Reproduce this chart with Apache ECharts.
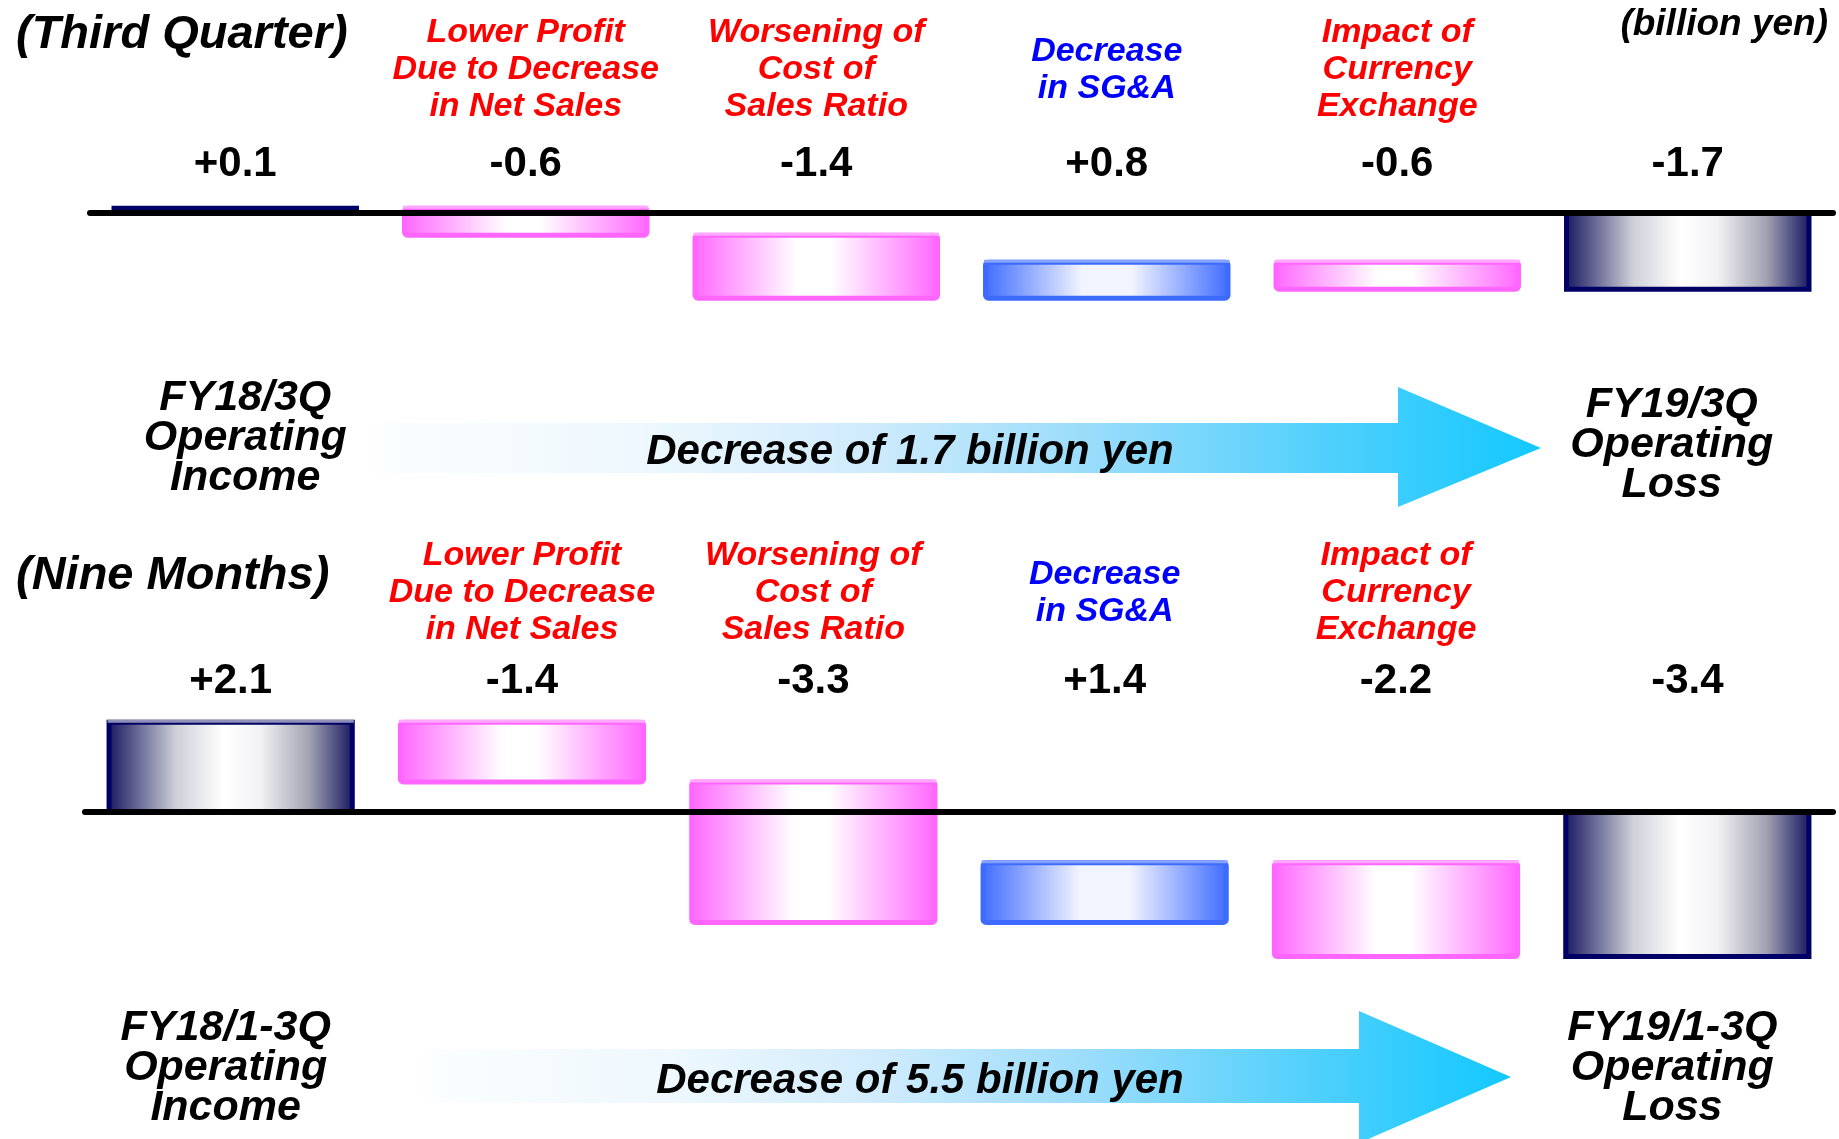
<!DOCTYPE html>
<html>
<head>
<meta charset="utf-8">
<script src="https://cdn.jsdelivr.net/npm/echarts@6/dist/echarts.min.js"></script>
<style>
  html, body { margin: 0; padding: 0; background: #fff; }
  #main { width: 1839px; height: 1139px; }
</style>
</head>
<body>
<div id="main"></div>
<script>
// operating income bridge, third quarter and nine months (billion yen)
var factorNames = ['Lower Profit\nDue to Decrease\nin Net Sales', 'Worsening of\nCost of\nSales Ratio', 'Decrease\nin SG&A', 'Impact of\nCurrency\nExchange'];
var quarterEnds = ['FY18/3Q\nOperating\nIncome', 'FY19/3Q\nOperating\nLoss'];
var nineMonthEnds = ['FY18/1-3Q\nOperating\nIncome', 'FY19/1-3Q\nOperating\nLoss'];
var quarterValues = [0.1, -0.6, -1.4, 0.8, -0.6, -1.7];
var nineMonthValues = [2.1, -1.4, -3.3, 1.4, -2.2, -3.4];
var panelTitles = ['(Third Quarter)', '(Nine Months)'];
var arrowTexts = ['Decrease of 1.7 billion yen', 'Decrease of 5.5 billion yen'];
var unitText = '(billion yen)';

var FONT = '"Liberation Sans", Arial, Helvetica, sans-serif';

var barStyles = {
    total: {
        stroke: '#000066', top: '#9090b8',
        stops: [[0, '#14145e'], [0.28, '#cfd0d8'], [0.47, '#ffffff'], [0.62, '#f2f2f4'], [0.82, '#a0a0b2'], [1, '#14145e']]
    },
    down: {
        stroke: '#ff66ff', top: '#ffa8ff',
        stops: [[0, '#ff66ff'], [0.42, '#ffffff'], [0.56, '#ffffff'], [1, '#ff66ff']]
    },
    up: {
        stroke: '#3d6bff', top: '#86a2ff',
        stops: [[0, '#3d6bff'], [0.4, '#f2f4ff'], [0.6, '#f2f4ff'], [1, '#3d6bff']]
    }
};

// waterfall ranges [index, low, high, delta]
function bridgeData(values) {
    var out = [];
    var cum = 0;
    var last = values.length - 1;
    values.forEach(function (v, i) {
        if (i === 0 || i === last) {
            out.push([i, Math.min(0, v), Math.max(0, v), v]);
            cum = v;
        } else {
            var next = cum + v;
            out.push([i, Math.min(cum, next), Math.max(cum, next), v]);
            cum = next;
        }
    });
    return out;
}

function fmt(v) {
    return (v > 0 ? '+' : '') + v.toFixed(1);
}

function makeRender(values, ends, layout) {
    var last = values.length - 1;
    return function (params, api) {
        var i = api.value(0);
        var low = api.value(1);
        var high = api.value(2);
        var delta = api.value(3);
        var pTop = api.coord([i, high]);
        var pBot = api.coord([i, low]);
        var band = api.size([1, 0])[0];
        var lw = 5;
        var w = band * 0.852 - lw;
        var x = pTop[0] - w / 2;
        var h = Math.max(pBot[1] - pTop[1], 1);
        var kind = (i === 0 || i === last) ? 'total' : (delta > 0 ? 'up' : 'down');
        var st = barStyles[kind];

        var children = [
            {
                type: 'rect',
                shape: { x: x, y: pTop[1], width: w, height: h, r: kind === 'total' ? 0 : 3 },
                style: {
                    fill: new echarts.graphic.LinearGradient(0, 0, 1, 0, st.stops.map(function (s) {
                        return { offset: s[0], color: s[1] };
                    })),
                    stroke: st.stroke,
                    lineWidth: lw
                }
            },
            {
                type: 'text',
                x: pTop[0],
                y: layout.valueY,
                style: {
                    text: fmt(delta),
                    fill: '#000',
                    fontSize: 42, fontWeight: 'bold', fontFamily: FONT,
                    align: 'center', verticalAlign: 'middle'
                }
            }
        ];
        // lighter top edge, skipped on very thin bars
        if (h > 12) {
            children.push({
                type: 'line',
                shape: { x1: x - lw / 2 + 1, y1: pTop[1] - 1, x2: x + w + lw / 2 - 1, y2: pTop[1] - 1 },
                style: { stroke: st.top, lineWidth: 3 }
            });
        }

        if (kind === 'total') {
            var end = i === 0 ? 0 : 1;
            children.push({
                type: 'text',
                x: pTop[0] + layout.footShift[end],
                y: layout.footY[end],
                style: {
                    text: ends[end],
                    fill: '#000',
                    fontSize: 43, fontWeight: 'bold', fontStyle: 'italic', fontFamily: FONT,
                    lineHeight: 40,
                    align: 'center', verticalAlign: 'middle'
                }
            });
        } else {
            children.push({
                type: 'text',
                x: pTop[0],
                y: layout.nameY,
                style: {
                    text: factorNames[i - 1],
                    fill: kind === 'up' ? '#0000ff' : '#ff0000',
                    fontSize: 34, fontWeight: 'bold', fontStyle: 'italic', fontFamily: FONT,
                    lineHeight: 37,
                    align: 'center', verticalAlign: 'middle'
                }
            });
        }
        return { type: 'group', children: children };
    };
}

function arrow(points, text, tx, ty) {
    return [
        {
            type: 'polygon',
            shape: { points: points },
            style: {
                fill: new echarts.graphic.LinearGradient(0, 0, 1, 0, [
                    { offset: 0, color: '#fcfeff' },
                    { offset: 0.23, color: '#eef8fe' },
                    { offset: 0.42, color: '#d0ebfc' },
                    { offset: 0.62, color: '#98dcfb' },
                    { offset: 0.83, color: '#4ccffc' },
                    { offset: 1, color: '#12c8ff' }
                ])
            },
            z: 1
        },
        {
            type: 'text',
            x: tx, y: ty,
            style: {
                text: text, fill: '#000',
                fontSize: 42, fontWeight: 'bold', fontStyle: 'italic', fontFamily: FONT,
                align: 'center', verticalAlign: 'middle'
            },
            z: 2
        }
    ];
}

function titleText(text, x, y, size, align) {
    return {
        type: 'text',
        x: x, y: y,
        style: {
            text: text, fill: '#000',
            fontSize: size, fontWeight: 'bold', fontStyle: 'italic', fontFamily: FONT,
            align: align, verticalAlign: 'middle'
        }
    };
}

function drawBridge() {
    var dom = document.getElementById('main');
    var myChart = echarts.init(dom, null, { renderer: 'canvas' });
    var categories = [quarterEnds[0]].concat(factorNames, [quarterEnds[1]]);

    var axisLineStyle = { show: true, onZero: true, lineStyle: { color: '#000', width: 6 } };
    var hiddenY = {
        axisLine: { show: false }, axisTick: { show: false },
        axisLabel: { show: false }, splitLine: { show: false }
    };

    var option = {
        backgroundColor: '#fff',
        animation: false,
        grid: [
            { left: 90, right: 6, top: 190.2, height: 135 },
            { left: 85, right: 6, top: 705.2, height: 276.9 }
        ],
        xAxis: [
            { type: 'category', gridIndex: 0, data: categories, z: 5, axisLine: axisLineStyle, axisTick: { show: false }, axisLabel: { show: false } },
            { type: 'category', gridIndex: 1, data: categories, z: 5, axisLine: axisLineStyle, axisTick: { show: false }, axisLabel: { show: false } }
        ],
        yAxis: [
            Object.assign({ type: 'value', gridIndex: 0, min: -2.5, max: 0.5 }, hiddenY),
            Object.assign({ type: 'value', gridIndex: 1, min: -4, max: 2.5 }, hiddenY)
        ],
        graphic: [
            titleText(panelTitles[0], 16, 35, 47, 'left'),
            titleText(panelTitles[1], 16, 576, 47, 'left'),
            titleText(unitText, 1828, 25, 37, 'right')
        ].concat(
            arrow([[373, 423], [1398, 423], [1398, 387], [1541, 448], [1398, 507], [1398, 473], [373, 473]], arrowTexts[0], 910, 452),
            arrow([[423, 1049], [1359, 1049], [1359, 1011], [1511, 1077], [1359, 1143], [1359, 1103], [423, 1103]], arrowTexts[1], 920, 1081)
        ),
        series: [
            {
                name: 'Third Quarter',
                type: 'custom',
                xAxisIndex: 0, yAxisIndex: 0,
                clip: false,
                renderItem: makeRender(quarterValues, quarterEnds, { valueY: 164, nameY: 70, footY: [438, 445], footShift: [10, -16] }),
                data: bridgeData(quarterValues)
            },
            {
                name: 'Nine Months',
                type: 'custom',
                xAxisIndex: 1, yAxisIndex: 1,
                clip: false,
                renderItem: makeRender(nineMonthValues, nineMonthEnds, { valueY: 681, nameY: 593, footY: [1068, 1068], footShift: [-5, -15] }),
                data: bridgeData(nineMonthValues)
            }
        ]
    };

    if (option && typeof option === 'object') {
        myChart.setOption(option);
    }

    window.addEventListener('resize', myChart.resize);
}

drawBridge();
</script>
</body>
</html>
